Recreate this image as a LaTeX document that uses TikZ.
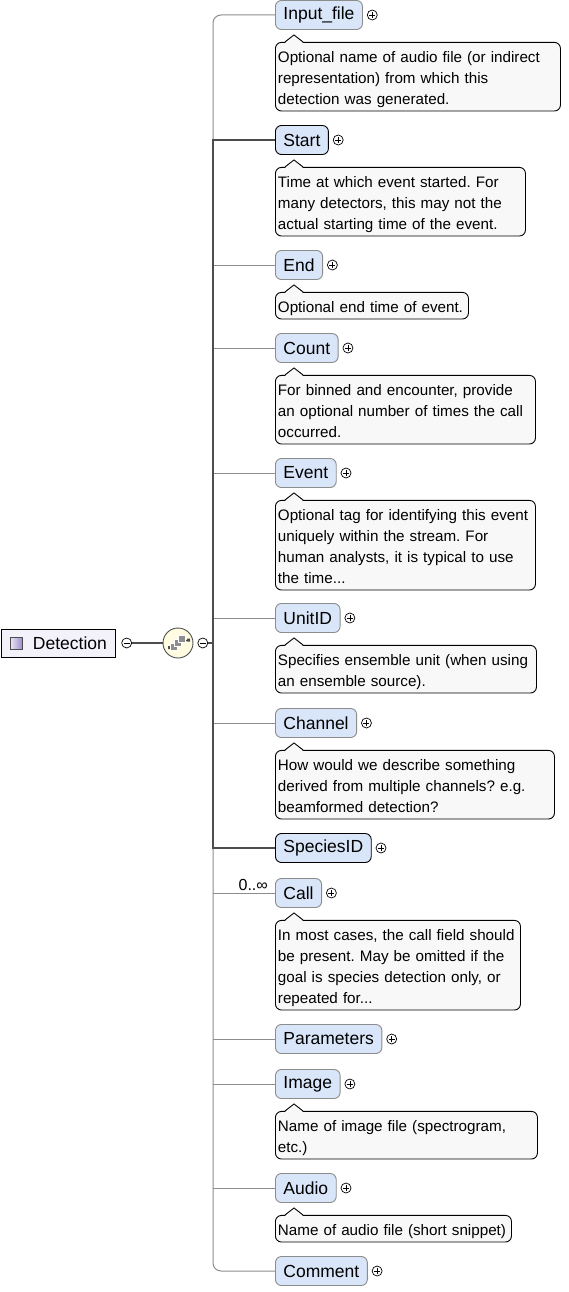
\documentclass[tikz,border=0pt]{standalone}
\usepackage{fontspec}
\setmainfont{Liberation Sans}
\frenchspacing
\usetikzlibrary{positioning,calc}
\definecolor{cLine}{HTML}{8C8C8C}
\definecolor{cDark}{HTML}{4D4D4D}
\definecolor{cElem}{HTML}{D9E5F8}
\definecolor{cNote}{HTML}{F8F8F8}
\definecolor{cRoot}{HTML}{F3F1FA}
\definecolor{cLav}{HTML}{9E8ECB}
\definecolor{cLavL}{HTML}{ECE6F8}
\definecolor{cSeq}{HTML}{FFFCE2}
\definecolor{cSq}{HTML}{8E8E8E}

\begin{document}
\begin{tikzpicture}[x=1pt,y=-1pt,
  elem/.style={draw=cLine,fill=cElem,rounded corners=6pt,line width=0.9pt,
               minimum height=29pt,inner xsep=8pt,inner ysep=0pt,
               font=\fontsize{17.5}{21}\selectfont},
  req/.style={elem,draw=black},
  note/.style={draw=black,fill=cNote,rounded corners=6pt,line width=0.9pt,
               align=left,inner xsep=2.5pt,inner ysep=2.8pt,
               font=\fontsize{15.2}{21}\selectfont,
               execute at begin node=\rule{0pt}{17.5pt},
               execute at end node=\rule[-3.5pt]{0pt}{3.5pt}},
  expd/.style={circle,draw,line width=0.7pt,minimum size=10pt,inner sep=0pt,
               path picture={\draw[line width=0.7pt]
                 ([xshift=-3pt]path picture bounding box.center) -- ([xshift=3pt]path picture bounding box.center)
                 ([yshift=-3pt]path picture bounding box.center) -- ([yshift=3pt]path picture bounding box.center);}},
  clps/.style={circle,draw,line width=0.7pt,minimum size=10pt,inner sep=0pt,
               path picture={\draw[line width=0.7pt]
                 ([xshift=-3pt]path picture bounding box.center) -- ([xshift=3pt]path picture bounding box.center);}},
  rootbox/.style={draw=black,fill=cRoot,line width=0.9pt,minimum height=28pt,
                  inner xsep=9pt,inner ysep=0pt,font=\fontsize{17.5}{21}\selectfont},
  seqc/.style={circle,draw=cDark,fill=cSeq,line width=0.9pt,minimum size=30pt,inner sep=0pt},
  conn/.style={cLine,line width=1pt},
  must/.style={cDark,line width=2pt}]

\useasboundingbox (0,0) rectangle (568,1292);

\node[rootbox,anchor=west] (detection) at (0.5,643) {\hspace{23pt}Detection};
\node[draw=cDark,left color=cLavL,right color=cLav,line width=0.6pt,
      minimum size=12pt,inner sep=0pt] (icon) at (16,643) {};
\node[clps,right=5pt of detection] (detx) {};
\node[seqc] (seq) at (178,643) {};
\node[clps,right=4pt of seq] (seqx) {};
\coordinate (bus) at (213,643);

\node[elem,anchor=west] (input) at (275,15) {Input\_file};
\node[expd,right=4pt of input] (inputx) {};
\node[note,text width=280pt,below right=12pt and 0pt of input.south west] (inputn)
  {Optional name of audio file (or indirect\\representation) from which this\\detection was generated.};

\node[req,anchor=west] (start) at (275,140) {Start};
\node[expd,right=4pt of start] (startx) {};
\node[note,text width=245pt,below right=12pt and 0pt of start.south west] (startn)
  {Time at which event started. For\\many detectors, this may not the\\actual starting time of the event.};

\node[elem,anchor=west] (end) at (275,265) {End};
\node[expd,right=4pt of end] (endx) {};
\node[note,text width=188pt,below right=12pt and 0pt of end.south west] (endn)
  {Optional end time of event.};

\node[elem,anchor=west] (count) at (275,348) {Count};
\node[expd,right=4pt of count] (countx) {};
\node[note,text width=255pt,below right=12pt and 0pt of count.south west] (countn)
  {For binned and encounter, provide\\an optional number of times the call\\occurred.};

\node[elem,anchor=west] (event) at (275,473) {Event};
\node[expd,right=4pt of event] (eventx) {};
\node[note,text width=255pt,below right=12pt and 0pt of event.south west] (eventn)
  {Optional tag for identifying this event\\uniquely within the stream. For\\human analysts, it is typical to use\\the time...};

\node[elem,anchor=west] (unit) at (275,618) {UnitID};
\node[expd,right=4pt of unit] (unitx) {};
\node[note,text width=256pt,below right=12pt and 0pt of unit.south west] (unitn)
  {Specifies ensemble unit (when using\\an ensemble source).};

\node[elem,anchor=west] (channel) at (275,723) {Channel};
\node[expd,right=4pt of channel] (channelx) {};
\node[note,text width=274pt,below right=12pt and 0pt of channel.south west] (channeln)
  {How would we describe something\\derived from multiple channels? e.g.\\beamformed detection?};

\node[req,anchor=west] (species) at (275,848) {SpeciesID};
\node[expd,right=4pt of species] (speciesx) {};

\node[elem,anchor=west] (call) at (275,893) {Call};
\node[expd,right=4pt of call] (callx) {};
\node[font=\fontsize{16}{21}\selectfont,anchor=base east,inner sep=0pt] (callm) at (268,890) {0..∞};
\node[note,text width=240pt,below right=12pt and 0pt of call.south west] (calln)
  {In most cases, the call field should\\be present. May be omitted if the\\goal is species detection only, or\\repeated for...};

\node[elem,anchor=west] (param) at (275,1039) {Parameters};
\node[expd,right=4pt of param] (paramx) {};

\node[elem,anchor=west] (image) at (275,1084) {Image};
\node[expd,right=4pt of image] (imagex) {};
\node[note,text width=257pt,below right=12pt and 0pt of image.south west] (imagen)
  {Name of image file (spectrogram,\\etc.)};

\node[elem,anchor=west] (audio) at (275,1188) {Audio};
\node[expd,right=4pt of audio] (audiox) {};
\node[note,text width=231pt,below right=12pt and 0pt of audio.south west] (audion)
  {Name of audio file (short snippet)};

\node[elem,anchor=west] (comment) at (275,1271) {Comment};
\node[expd,right=4pt of comment] (commentx) {};

\foreach \n in {inputn,startn,endn,countn,eventn,unitn,channeln,calln,imagen,audion} {
  \fill[cNote] ($(\n.north west)+(10,1)$) -- ($(\n.north west)+(19,-7)$) -- ($(\n.north west)+(28,1)$) -- cycle;
  \draw[line width=0.9pt] ($(\n.north west)+(10,0)$) -- ($(\n.north west)+(19,-7)$) -- ($(\n.north west)+(28,0)$);
}

\draw[conn,rounded corners=8pt] (input.west) -| (bus) |- (comment.west);
\foreach \e in {end,count,event,unit,channel,call,param,image,audio}
  \draw[conn] (\e.west) -- (\e.west -| bus);
\draw[must] (start.west) -| (bus) |- (species.west);
\draw[must] (detx) -- (seq);
\draw[must] (seqx) -- (bus);

\begin{scope}[shift={(seq.center)}]
  \draw[cDark,line width=1pt] (-8,4) -- (10,-3);
  \fill[cDark] (-10,3) rectangle (-7,6) (9,-4.5) rectangle (12,-1.5);
  \foreach \d in {-4,0,4}
    \filldraw[draw=white,fill=cSq,line width=0.6pt] (\d-3.5,-\d-3.5) rectangle (\d+3.5,-\d+3.5);
\end{scope}
\end{tikzpicture}
\end{document}
